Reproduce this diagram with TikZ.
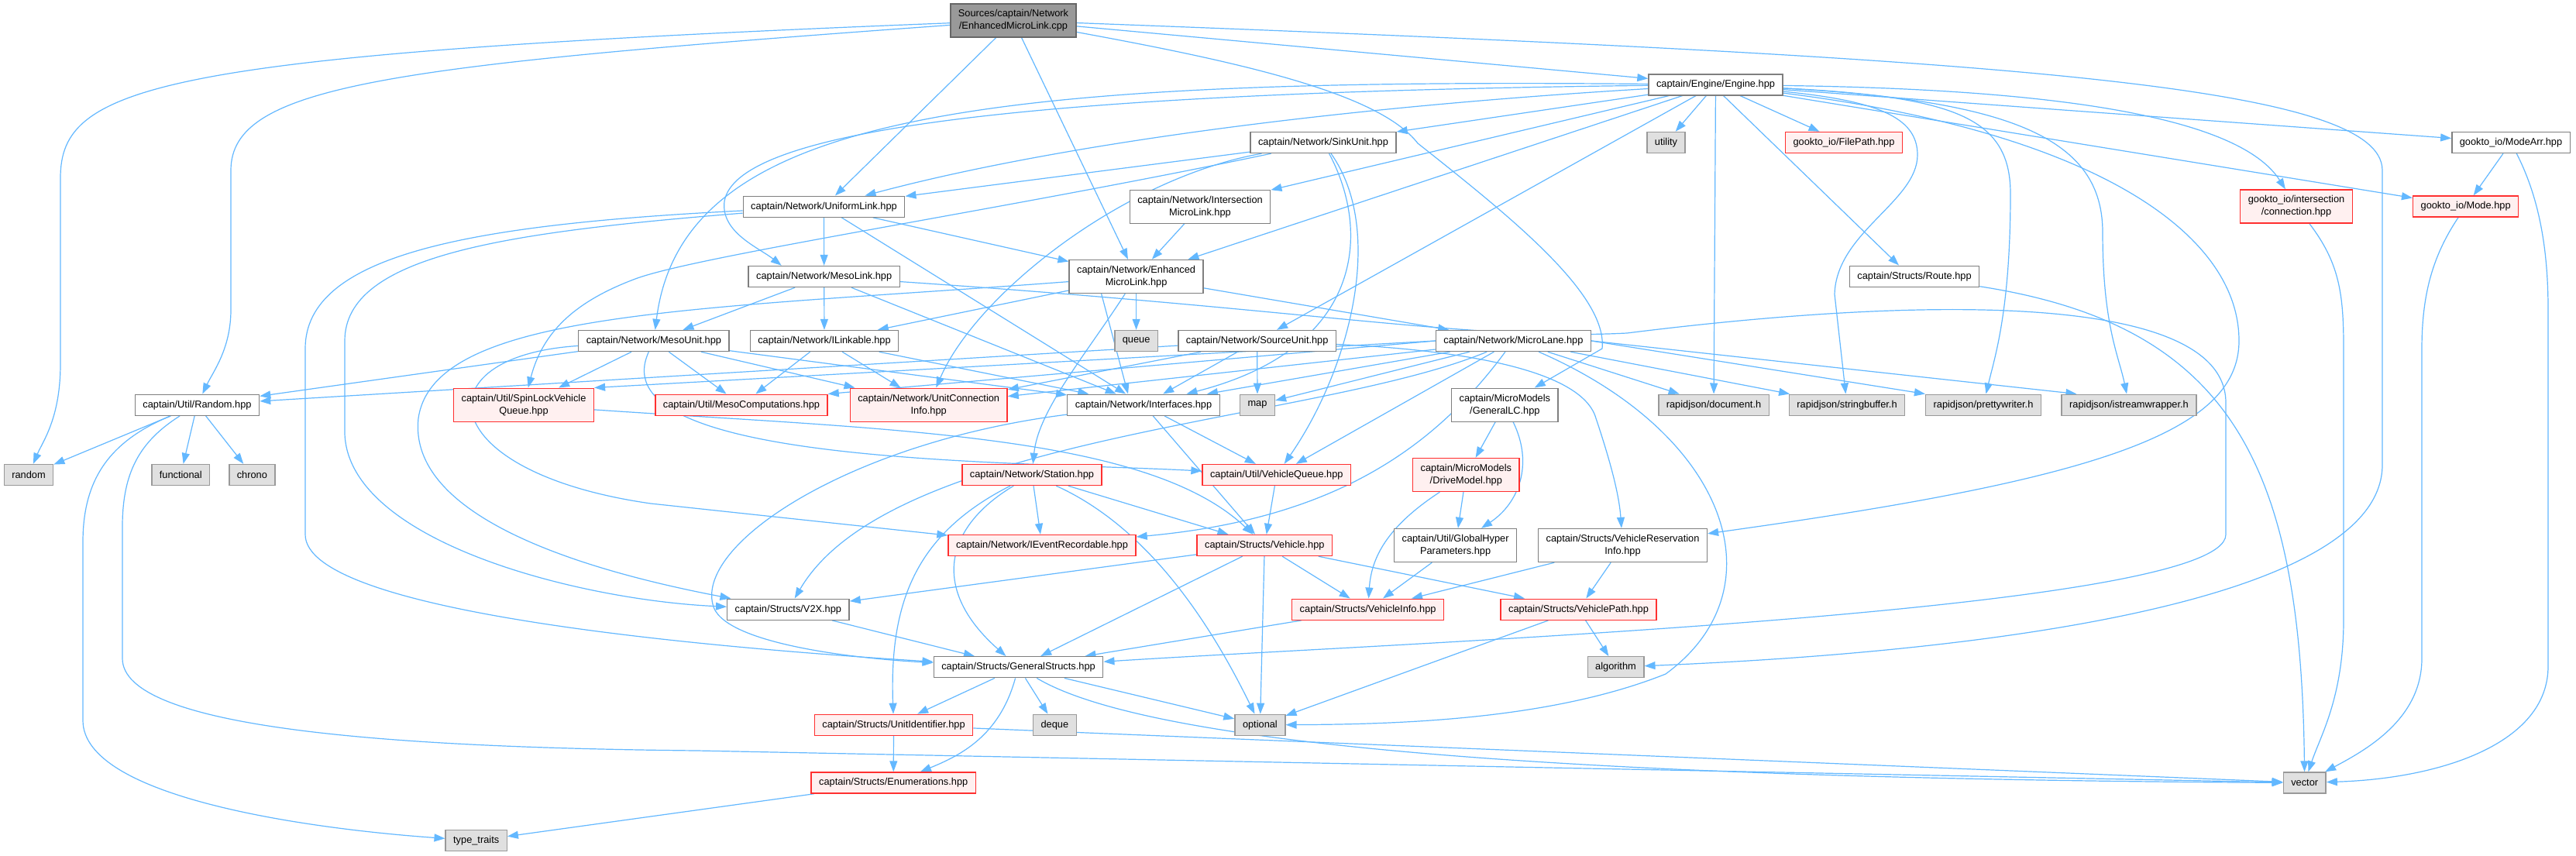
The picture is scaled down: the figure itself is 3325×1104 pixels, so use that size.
\documentclass[tikz,border=0pt]{standalone}
\usepackage{fontspec}
\usepackage{tikz}
\usetikzlibrary{arrows.meta, positioning, backgrounds}
\newfontfamily\graphfont{Liberation Sans}
\definecolor{edgeblue}{HTML}{63B8FF}
\definecolor{boxgray}{HTML}{7F7F7F}
\definecolor{rootfill}{HTML}{999999}
\definecolor{rootline}{HTML}{666666}
\definecolor{truncfill}{HTML}{FFF0F0}
\definecolor{truncline}{HTML}{FF3030}
\definecolor{sysfill}{HTML}{E0E0E0}
\definecolor{sysline}{HTML}{999999}

\begin{document}
\begin{tikzpicture}[x=1pt, y=-1pt,
  hdr/.style={rectangle, draw=boxgray, fill=white, line width=1.4pt,
    font=\graphfont\fontsize{12.8}{16}\selectfont, align=center,
    inner xsep=10pt, inner ysep=2pt, minimum height=27pt},
  tall/.style={minimum height=43pt},
  rootfile/.style={hdr, draw=rootline, fill=rootfill},
  trunc/.style={hdr, draw=truncline, fill=truncfill},
  sys/.style={hdr, draw=sysline, fill=sysfill},
  dep/.style={-{Triangle[length=14pt, width=10pt]}, draw=edgeblue,
    line width=1.2pt}
]
\useasboundingbox (0,0) rectangle (3325,1104);

% source file and engine
\node[rootfile, tall] (root) at (1308,26.5) {Sources/captain/Network\\/EnhancedMicroLink.cpp};
\node[hdr] (engine) at (2214.5,109.3) {captain/Engine/Engine.hpp};

% row 2
\node[hdr] (sinkunit) at (1708,184) {captain/Network/SinkUnit.hpp};
\node[sys] (utility) at (2150.5,184) {utility};
\node[trunc] (filepath) at (2380,184) {gookto\_io/FilePath.hpp};
\node[hdr] (modearr) at (3241,184) {gookto\_io/ModeArr.hpp};

% row 3
\node[hdr] (uniformlink) at (1063.5,266.7) {captain/Network/UniformLink.hpp};
\node[hdr, tall] (intermicro) at (1549,266.7) {captain/Network/Intersection\\MicroLink.hpp};
\node[trunc, tall] (connection) at (2964,266.5) {gookto\_io/intersection\\/connection.hpp};
\node[trunc] (mode) at (3182.6,266.5) {gookto\_io/Mode.hpp};

% row 4
\node[hdr] (mesolink) at (1063.7,357) {captain/Network/MesoLink.hpp};
\node[hdr, tall] (enhmicro) at (1466.6,357) {captain/Network/Enhanced\\MicroLink.hpp};
\node[hdr] (route) at (2471,356.7) {captain/Structs/Route.hpp};

% row 5
\node[hdr] (mesounit) at (843.9,440) {captain/Network/MesoUnit.hpp};
\node[hdr] (ilinkable) at (1064,440) {captain/Network/ILinkable.hpp};
\node[sys] (queue) at (1466.6,440) {queue};
\node[hdr] (sourceunit) at (1622.7,440) {captain/Network/SourceUnit.hpp};
\node[hdr] (microlane) at (1953.4,440) {captain/Network/MicroLane.hpp};

% row 6
\node[hdr] (utilrandom) at (254.5,522.7) {captain/Util/Random.hpp};
\node[trunc, tall] (spinlock) at (676,522.7) {captain/Util/SpinLockVehicle\\Queue.hpp};
\node[trunc] (mesocomp) at (957,522.7) {captain/Util/MesoComputations.hpp};
\node[trunc, tall] (unitconn) at (1198.7,522.7) {captain/Network/UnitConnection\\Info.hpp};
\node[hdr] (interfaces) at (1476,522.7) {captain/Network/Interfaces.hpp};
\node[sys] (map) at (1623,522.7) {map};
\node[hdr, tall] (generallc) at (1942.4,522.7) {captain/MicroModels\\/GeneralLC.hpp};
\node[sys] (document) at (2212,522.7) {rapidjson/document.h};
\node[sys] (strbuf) at (2384,522.7) {rapidjson/stringbuffer.h};
\node[sys] (pretty) at (2560,522.7) {rapidjson/prettywriter.h};
\node[sys] (istream) at (2748,522.7) {rapidjson/istreamwrapper.h};

% row 7
\node[sys] (stdrandom) at (37,613) {random};
\node[sys] (functional) at (233.3,613) {functional};
\node[sys] (chrono) at (325.4,613) {chrono};
\node[trunc] (station) at (1332,613) {captain/Network/Station.hpp};
\node[trunc] (vehqueue) at (1647.8,613) {captain/Util/VehicleQueue.hpp};
\node[trunc, tall] (drivemodel) at (1892.3,613) {captain/MicroModels\\/DriveModel.hpp};

% row 8
\node[trunc] (ieventrec) at (1345,704) {captain/Network/IEventRecordable.hpp};
\node[trunc] (vehicle) at (1632.3,704) {captain/Structs/Vehicle.hpp};
\node[hdr, tall] (globalhyper) at (1878.6,704) {captain/Util/GlobalHyper\\Parameters.hpp};
\node[hdr, tall] (vehres) at (2094.5,704) {captain/Structs/VehicleReservation\\Info.hpp};

% row 9 and 10
\node[hdr] (v2x) at (1017.4,786.7) {captain/Structs/V2X.hpp};
\node[trunc] (vehinfo) at (1765.6,786.7) {captain/Structs/VehicleInfo.hpp};
\node[trunc] (vehpath) at (2037.5,786.7) {captain/Structs/VehiclePath.hpp};
\node[hdr] (genstructs) at (1314.5,861.2) {captain/Structs/GeneralStructs.hpp};
\node[sys] (algorithm) at (2085.5,861.2) {algorithm};

% bottom rows
\node[trunc] (unitid) at (1153.5,935.8) {captain/Structs/UnitIdentifier.hpp};
\node[sys] (deque) at (1361.4,935.8) {deque};
\node[sys] (optional) at (1626.4,935.8) {optional};
\node[trunc] (enums) at (1153.2,1010.5) {captain/Structs/Enumerations.hpp};
\node[sys] (vector) at (2974.7,1010.5) {vector};
\node[sys] (typetraits) at (614.7,1085.2) {type\_traits};

\begin{scope}[on background layer]
\fill[white] (0,0) rectangle (3325,1104);

% includes of the source file
\draw[dep] (root) .. controls (200,70) and (78,110) .. (78,230) -- (78,470) .. controls (78,540) and (55,570) .. (stdrandom);
\draw[dep] (root) .. controls (500,85) and (298,110) .. (298,220) -- (298,400) .. controls (298,450) and (275,480) .. (utilrandom);
\draw[dep] (root) -- (uniformlink);
\draw[dep] (root) -- (enhmicro);
\draw[dep] (root) -- (engine);
\draw[dep] (root) .. controls (1600,80) and (1780,120) .. (1830,185) .. controls (1950,280) and (2075,380) .. (2068,450) -- (generallc);
\draw[dep] (root) .. controls (2600,75) and (3075,110) .. (3075,220) -- (3075,600) .. controls (3075,770) and (2600,840) .. (algorithm);

% Engine.hpp
\draw[dep] (engine) -- (sinkunit);
\draw[dep] (engine) .. controls (1700,140) and (1350,190) .. (uniformlink);
\draw[dep] (engine) .. controls (1300,120) and (950,170) .. (935,260) .. controls (930,300) and (980,320) .. ([xshift=-55pt]mesolink.north);
\draw[dep] (engine) .. controls (1250,100) and (880,150) .. (mesounit);
\draw[dep] (engine) -- (intermicro);
\draw[dep] (engine) -- (enhmicro);
\draw[dep] (engine) -- (sourceunit);
\draw[dep] (engine) -- (utility);
\draw[dep] (engine) -- (document);
\draw[dep] ([xshift=10pt]engine.south) -- ([xshift=-20pt]route.north);
\draw[dep] (engine) -- (filepath);
\draw[dep] (engine) .. controls (2420,130) and (2475,150) .. (2475,200) .. controls (2475,260) and (2370,300) .. (2368,380) -- (strbuf);
\draw[dep] (engine) .. controls (2520,125) and (2595,150) .. (2595,250) .. controls (2595,400) and (2575,460) .. (pretty);
\draw[dep] (engine) .. controls (2600,130) and (2714,180) .. (2714,300) .. controls (2714,420) and (2735,460) .. (istream);
\draw[dep] (engine) .. controls (2700,170) and (2890,300) .. (2890,440) .. controls (2890,560) and (2700,620) .. (vehres);
\draw[dep] (engine) .. controls (2650,115) and (2890,150) .. (connection);
\draw[dep] (engine) -- (mode);
\draw[dep] (engine) -- (modearr);

% SinkUnit.hpp
\draw[dep] (sinkunit) -- (uniformlink);
\draw[dep] (sinkunit) .. controls (1300,270) and (900,330) .. (820,360) .. controls (740,390) and (700,430) .. (spinlock);
\draw[dep] (sinkunit) .. controls (1450,230) and (1260,380) .. (unitconn);
\draw[dep] (sinkunit) .. controls (1770,300) and (1760,450) .. (interfaces);
\draw[dep] (sinkunit) .. controls (1790,300) and (1740,480) .. (vehqueue);

% UniformLink.hpp, IntersectionMicroLink.hpp
\draw[dep] (uniformlink) -- (mesolink);
\draw[dep] (uniformlink) -- (enhmicro);
\draw[dep] (uniformlink) -- (interfaces);
\draw[dep] (uniformlink) .. controls (600,290) and (394,330) .. (394,450) -- (394,690) .. controls (394,790) and (900,835) .. (genstructs);
\draw[dep] (uniformlink) .. controls (650,300) and (445,330) .. (445,440) -- (445,560) .. controls (450,700) and (750,775) .. (v2x);
\draw[dep] (intermicro) -- (enhmicro);

% MesoLink.hpp
\draw[dep] (mesolink) -- (mesounit);
\draw[dep] (mesolink) -- (ilinkable);
\draw[dep] (mesolink) -- (interfaces);
\draw[dep] (mesolink) .. controls (1700,400) and (1900,440) .. (2100,430) .. controls (2500,380) and (2873,380) .. (2873,520) -- (2873,690) .. controls (2873,790) and (1800,830) .. (genstructs);

% EnhancedMicroLink.hpp
\draw[dep] (enhmicro) -- (ilinkable);
\draw[dep] (enhmicro) -- (queue);
\draw[dep] ([xshift=-45pt]enhmicro.south) -- ([xshift=-20pt]interfaces.north);
\draw[dep] (enhmicro) -- (microlane);
\draw[dep] (enhmicro) .. controls (1400,460) and (1340,530) .. (station);
\draw[dep] (enhmicro) .. controls (900,400) and (560,400) .. (540,540) .. controls (525,680) and (800,745) .. (v2x);

% MesoUnit.hpp, ILinkable.hpp
\draw[dep] (mesounit) -- (utilrandom);
\draw[dep] (mesounit) -- (spinlock);
\draw[dep] (mesounit) -- (mesocomp);
\draw[dep] (mesounit) -- (unitconn);
\draw[dep] (mesounit) -- (interfaces);
\draw[dep] (mesounit) .. controls (770,600) and (1300,595) .. (vehqueue);
\draw[dep] (mesounit) .. controls (540,460) and (560,610) .. (840,650) -- (ieventrec);
\draw[dep] (ilinkable) -- (mesocomp);
\draw[dep] (ilinkable) -- (unitconn);
\draw[dep] (ilinkable) -- (interfaces);

% SourceUnit.hpp
\draw[dep] (sourceunit) -- (utilrandom);
\draw[dep] (sourceunit) -- (unitconn);
\draw[dep] (sourceunit) -- (interfaces);
\draw[dep] (sourceunit) -- (map);
\draw[dep] (sourceunit) .. controls (1850,450) and (2040,470) .. (2060,540) .. controls (2080,600) and (2090,640) .. (vehres);

% MicroLane.hpp
\draw[dep] (microlane) -- (interfaces);
\draw[dep] (microlane) -- (unitconn);
\draw[dep] (microlane.west) -- (mesocomp.north east);
\draw[dep] (microlane.west) -- (spinlock.north east);
\draw[dep] (microlane) -- (map);
\draw[dep] (microlane) .. controls (1700,545) and (1150,560) .. (v2x);
\draw[dep] (microlane) -- (vehqueue);
\draw[dep] (microlane) .. controls (1850,580) and (1720,670) .. (ieventrec);
\draw[dep] (microlane) -- (document);
\draw[dep] (microlane) -- (strbuf);
\draw[dep] (microlane.east) -- (pretty.north west);
\draw[dep] (microlane.east) -- ([xshift=20pt]istream.north west);
\draw[dep] (microlane) .. controls (2230,560) and (2300,760) .. (2150,870) .. controls (2000,930) and (1800,935) .. (optional);

% Station.hpp, Interfaces.hpp and the queues
\draw[dep] (station) -- (ieventrec);
\draw[dep] (station) -- (vehicle);
\draw[dep] (station) .. controls (1180,690) and (1148,780) .. (unitid);
\draw[dep] (station) .. controls (1220,680) and (1200,760) .. (genstructs);
\draw[dep] (station) .. controls (1480,680) and (1560,800) .. (optional);
\draw[dep] (interfaces) -- (vehqueue);
\draw[dep] (interfaces) -- (vehicle);
\draw[dep] (interfaces) .. controls (1100,570) and (900,700) .. (920,780) .. controls (930,830) and (1100,850) .. (genstructs);
\draw[dep] (vehqueue) -- (vehicle);
\draw[dep] (spinlock) .. controls (1150,555) and (1480,560) .. (vehicle);

% micro models
\draw[dep] (generallc) -- (drivemodel);
\draw[dep] (generallc) .. controls (1980,600) and (1960,650) .. (globalhyper);
\draw[dep] (drivemodel) -- (globalhyper);
\draw[dep] (drivemodel) .. controls (1790,680) and (1770,720) .. (vehinfo);
\draw[dep] (globalhyper) -- (vehinfo);
\draw[dep] (vehres) -- (vehinfo);
\draw[dep] (vehres) -- (vehpath);

% Vehicle.hpp and structs
\draw[dep] (vehicle) -- (vehinfo);
\draw[dep] (vehicle) -- (vehpath);
\draw[dep] (vehicle) -- (v2x);
\draw[dep] (vehicle) -- (genstructs);
\draw[dep] (vehicle) -- (optional);
\draw[dep] (vehinfo) -- (genstructs);
\draw[dep] (vehpath) -- (optional);
\draw[dep] (vehpath) -- (algorithm);
\draw[dep] (v2x) -- (genstructs);
\draw[dep] (genstructs) -- (unitid);
\draw[dep] (genstructs) .. controls (1290,950) and (1240,975) .. (enums);
\draw[dep] (genstructs) -- (deque);
\draw[dep] (genstructs) -- (optional);
\draw[dep] (genstructs) .. controls (1480,960) and (2000,1005) .. (vector);
\draw[dep] (unitid) -- (enums);
\draw[dep] (unitid) -- (vector);
\draw[dep] (enums) -- (typetraits);

% Random.hpp
\draw[dep] (utilrandom) -- (stdrandom);
\draw[dep] (utilrandom) -- (functional);
\draw[dep] (utilrandom) -- (chrono);
\draw[dep] (utilrandom) .. controls (140,570) and (107,620) .. (107,700) -- (107,930) .. controls (107,1030) and (400,1070) .. (typetraits);
\draw[dep] (utilrandom) .. controls (180,570) and (158,610) .. (158,680) -- (158,850) .. controls (158,940) and (500,965) .. (900,969) -- (vector);

% gookto_io and Route.hpp
\draw[dep] (route) .. controls (2880,420) and (2970,600) .. (vector);
\draw[dep] (connection) .. controls (3020,340) and (3025,380) .. (3025,450) -- (3025,800) .. controls (3025,900) and (2995,950) .. (vector);
\draw[dep] (mode) .. controls (3140,330) and (3126,380) .. (3126,450) -- (3126,850) .. controls (3126,930) and (3050,970) .. (vector);
\draw[dep] (modearr) .. controls (3280,260) and (3289,330) .. (3289,400) -- (3289,860) .. controls (3289,960) and (3150,1005) .. (vector);
\draw[dep] (modearr) -- (mode);
\end{scope}
\end{tikzpicture}
\end{document}
